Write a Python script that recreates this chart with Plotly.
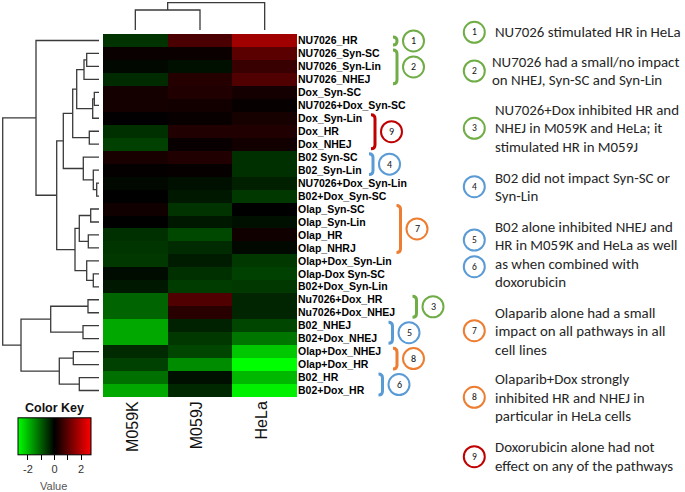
import plotly.graph_objects as go

# ---------------- data ----------------
rows = ["NU7026_HR", "NU7026_Syn-SC", "NU7026_Syn-Lin", "NU7026_NHEJ", "Dox_Syn-SC",
        "NU7026+Dox_Syn-SC", "Dox_Syn-Lin", "Dox_HR", "Dox_NHEJ", "B02 Syn-SC",
        "B02_Syn-Lin", "NU7026+Dox_Syn-Lin", "B02+Dox_Syn-SC", "Olap_Syn-SC",
        "Olap_Syn-Lin", "Olap_HR", "Olap_NHRJ", "Olap+Dox_Syn-Lin", "Olap-Dox Syn-SC",
        "B02+Dox_Syn-Lin", "Nu7026+Dox_HR", "Nu7026+Dox_NHEJ", "B02_NHEJ", "B02+Dox_NHEJ",
        "Olap+Dox_NHEJ", "Olap+Dox_HR", "B02_HR", "B02+Dox_HR"]
cols = ["M059K", "M059J", "HeLa"]

m059k = [-0.55, 0.11, -0.09, -0.45, 0.23, 0.23, 0.02, -0.52, -0.69, 0.26, 0.05, -0.09, 0.00, 0.17,
         0.00, -0.52, -0.57, -0.60, -0.13, -0.26, -1.09, -1.09, -1.81, -1.81, -0.45, -0.69, -1.21, -1.81]
m059j = [0.80, 0.11, -0.17, 0.40, 0.35, 0.19, 0.09, 0.35, 0.09, 0.35, 0.06, -0.17, -0.26, -0.55,
         -0.26, -0.78, -0.45, -0.30, -0.52, -0.65, 0.86, 0.43, -0.37, -0.60, -0.74, -1.51, -0.17, -0.43]
hela = [1.73, 0.97, 0.60, 0.86, 0.22, 0.06, 0.24, 0.35, 0.19, -0.52, -0.52, -0.35, -0.60, 0.00,
        -0.17, 0.17, -0.09, -0.60, -0.69, -0.60, -0.40, -0.40, -0.74, -1.26, -2.16, -2.75, -1.98, -2.59]

key_ticks = [-2, -1, 0, 1, 2]
key_ticktext = ["-2", "", "0", "", "2"]

# row dendrogram: (left, right, merge height)
R = rows
n23 = (R[1], R[2], 12.3)
n234 = (n23, R[3], 15.0)
n56 = (R[4], R[5], 4.7)
n567 = (n56, R[6], 6.3)
n2_7 = (n234, n567, 22.3)
n89 = (R[7], R[8], 9.7)
nE = (n2_7, n89, 26.3)
n1213 = (R[11], R[12], 2.3)
nG = (R[10], n1213, 5.7)
nF = (R[9], nG, 15.7)
nC = (nE, nF, 35.7)
n1415 = (R[13], R[14], 8.3)
n1617 = (R[15], R[16], 10.7)
n14_17 = (n1415, n1617, 19.7)
n1920 = (R[18], R[19], 5.7)
n18_20 = (R[17], n1920, 12.3)
nD = (n14_17, n18_20, 24.0)
nB = (nC, nD, 42.3)
nA = (R[0], nB, 63.0)
n2122 = (R[20], R[21], 11.0)
n2324 = (R[22], R[23], 16.0)
nI = (n2122, n2324, 48.3)
n2526 = (R[24], R[25], 25.7)
n2728 = (R[26], R[27], 19.7)
nJ = (n2526, n2728, 39.7)
nH = (nI, nJ, 78.0)
row_tree = (nA, nH, 96.3)

col_tree = ((cols[0], cols[1], 20.0), cols[2], 27.3)

# annotation groups: number, first row, last row, colour
groups = [
    (1, "NU7026_HR", "NU7026_HR", "green"),
    (2, "NU7026_Syn-SC", "NU7026_NHEJ", "green"),
    (9, "Dox_Syn-Lin", "Dox_NHEJ", "red"),
    (4, "B02 Syn-SC", "B02_Syn-Lin", "blue"),
    (7, "Olap_Syn-SC", "Olap_NHRJ", "orange"),
    (3, "Nu7026+Dox_HR", "Nu7026+Dox_NHEJ", "green"),
    (5, "B02_NHEJ", "B02+Dox_NHEJ", "blue"),
    (8, "Olap+Dox_NHEJ", "Olap+Dox_HR", "orange"),
    (6, "B02_HR", "B02+Dox_HR", "blue"),
]

notes = [
    (1, "green", ["NU7026 stimulated HR in HeLa"]),
    (2, "green", ["NU7026 had a small/no impact", "on NHEJ, Syn-SC and Syn-Lin"]),
    (3, "green", ["NU7026+Dox inhibited HR and", "NHEJ in M059K and HeLa; it", "stimulated HR in M059J"]),
    (4, "blue", ["B02 did not impact Syn-SC or", "Syn-Lin"]),
    (5, "blue", ["B02 alone inhibited NHEJ and", "HR in M059K and HeLa as well",
                 "as when combined with", "doxorubicin"]),
    (7, "orange", ["Olaparib alone had a small", "impact on all pathways in all", "cell lines"]),
    (8, "orange", ["Olaparib+Dox strongly", "inhibited HR and NHEJ in", "particular in HeLa cells"]),
    (9, "red", ["Doxorubicin alone had not", "effect on any of the pathways"]),
]

# ---------------- layout helpers ----------------
W, H = 685, 492
COLORS = {"green": "#70AD47", "blue": "#5B9BD5", "orange": "#ED7D31", "red": "#C00000"}
ARIAL = "Liberation Sans, Arial, sans-serif"
CAL = "Carlito, Calibri, Lato, sans-serif"


def px(x):
    return x / W


def py(y):
    return 1 - y / H


HM_L, HM_R, HM_T, HM_B = 103, 297, 34, 397
ROWH = (HM_B - HM_T) / len(rows)
LEAF_X = 99      # pixel where row dendrogram leaves end
TOP_LEAF_Y = 30  # pixel where column dendrogram leaves end


def tree_segments(node, pos, xs, ys, horizontal):
    """Return (position, height) of node, appending line segments."""
    if isinstance(node, str):
        return pos[node], 0.0
    left, right, h = node
    p1, h1 = tree_segments(left, pos, xs, ys, horizontal)
    p2, h2 = tree_segments(right, pos, xs, ys, horizontal)
    pts = [(h1, p1), (h, p1), (h, p2), (h2, p2)]
    for a, b in pts:
        if horizontal:
            xs.append(a); ys.append(b)
        else:
            xs.append(b); ys.append(a)
    xs.append(None); ys.append(None)
    return (p1 + p2) / 2, h


fig = go.Figure()

fig.add_trace(go.Heatmap(
    z=[[a, b, c] for a, b, c in zip(m059k, m059j, hela)],
    x=cols, y=rows,
    colorscale=[[0, "#00FF00"], [0.5, "#000000"], [1, "#FF0000"]],
    zmin=-2.75, zmax=2.75, xaxis="x", yaxis="y",
    hoverinfo="skip",
    colorbar=dict(
        orientation="h", x=px(54.5), xanchor="center", y=py(476), yanchor="bottom",
        len=73, lenmode="pixels", thickness=37, thicknessmode="pixels",
        xpad=0, ypad=0, outlinewidth=1, outlinecolor="#000",
        tickvals=key_ticks, ticktext=key_ticktext, ticks="outside", ticklen=5,
        tickcolor="#000", tickfont=dict(family=ARIAL, size=11, color="#333"),
        title=dict(text="Color Key", side="top",
                   font=dict(family=ARIAL, size=12.5, color="#111", weight="bold")),
    ),
))

# row dendrogram
xs, ys = [], []
tree_segments(row_tree, {r: i for i, r in enumerate(rows)}, xs, ys, True)
fig.add_trace(go.Scatter(x=xs, y=ys, mode="lines", xaxis="x2", yaxis="y2",
                         line=dict(color="#3a3a3a", width=1.3), hoverinfo="skip",
                         showlegend=False))
# column dendrogram
xs, ys = [], []
tree_segments(col_tree, {c: i for i, c in enumerate(cols)}, xs, ys, False)
fig.add_trace(go.Scatter(x=xs, y=ys, mode="lines", xaxis="x3", yaxis="y3",
                         line=dict(color="#3a3a3a", width=1.3), hoverinfo="skip",
                         showlegend=False))

shapes, annots = [], []


def circle(cx, cy, r, color, num, fsize):
    shapes.append(dict(type="circle", xref="paper", yref="paper",
                       x0=px(cx - r), x1=px(cx + r), y0=py(cy + r), y1=py(cy - r),
                       line=dict(color=color, width=2)))
    annots.append(dict(text=str(num), x=px(cx), y=py(cy), xref="paper", yref="paper",
                       showarrow=False, xanchor="center", yanchor="middle",
                       font=dict(family=CAL, size=fsize, color="#111")))


# brackets near row labels (vertical line x)
BRACKET_X = {1: 397, 2: 397, 9: 375, 4: 373, 7: 400.5, 3: 416.5, 5: 392.5, 8: 397, 6: 382.5}
idx = {r: i for i, r in enumerate(rows)}
for num, first, last, col in groups:
    top = HM_T + idx[first] * ROWH + 3
    bot = HM_T + (idx[last] + 1) * ROWH - 2
    xv = BRACKET_X[num]
    c = 4
    path = (f"M {px(xv - c)},{py(top)} Q {px(xv)},{py(top)} {px(xv)},{py(top + c)} "
            f"L {px(xv)},{py(bot - c)} Q {px(xv)},{py(bot)} {px(xv - c)},{py(bot)}")
    shapes.append(dict(type="path", path=path, xref="paper", yref="paper",
                       line=dict(color=COLORS[col], width=3)))
    circle(xv + 16.5, (top + bot) / 2, 10.5, COLORS[col], num, 10)

# right-hand notes
NOTE_CIRCLE_Y = {1: [32.3], 2: [71], 3: [128.3], 4: [186.7], 5: [240, 266.7],
                 7: [330.7], 8: [397.3], 9: [456.7]}
NOTE_FIRST_Y = {1: 32.3, 2: 61.7, 3: 110, 4: 177.7, 5: 226.7, 7: 312.7, 8: 379.3, 9: 447.3}
NOTE_X = {2: 490}
LINE_GAP = 18.4
for num, col, lines in notes:
    for k, cy in enumerate(NOTE_CIRCLE_Y[num]):
        circle(474.3, cy, 10.5, COLORS[col], num if k == 0 else 6, 9.5)
    for j, line in enumerate(lines):
        annots.append(dict(text=line, x=px(NOTE_X.get(num, 492.5)),
                           y=py(NOTE_FIRST_Y[num] + j * LINE_GAP),
                           xref="paper", yref="paper", showarrow=False,
                           xanchor="left", yanchor="middle",
                           font=dict(family=CAL, size=14.9, color="#262626")))

annots.append(dict(text="Value", x=px(53.5), y=py(486), xref="paper", yref="paper",
                   showarrow=False, xanchor="center", yanchor="middle",
                   font=dict(family=ARIAL, size=11, color="#555")))

fig.update_layout(
    width=W, height=H, margin=dict(l=0, r=0, t=0, b=0, pad=0, autoexpand=False),
    paper_bgcolor="white", plot_bgcolor="white", showlegend=False,
    xaxis=dict(domain=[px(HM_L), px(HM_R)], range=[-0.5, 2.5], anchor="y",
               tickmode="array", tickvals=cols, ticktext=cols, automargin=False,
               tickangle=-90, showgrid=False, zeroline=False, ticks="",
               ticklabelshift=-3,
               tickfont=dict(family=ARIAL, size=16, color="#111")),
    yaxis=dict(domain=[py(HM_B), py(HM_T)], range=[len(rows) - 0.5, -0.5], anchor="x",
               tickmode="array", tickvals=rows, ticktext=rows, automargin=False,
               side="right", showgrid=False, zeroline=False, ticks="",
               tickfont=dict(family=ARIAL, size=10.5, color="#000", weight="bold")),
    xaxis2=dict(domain=[0, px(LEAF_X)], range=[LEAF_X, 0], visible=False, anchor="y2"),
    yaxis2=dict(domain=[py(HM_B), py(HM_T)], range=[len(rows) - 0.5, -0.5],
                visible=False, anchor="x2"),
    xaxis3=dict(domain=[px(HM_L), px(HM_R)], range=[-0.5, 2.5], visible=False, anchor="y3"),
    yaxis3=dict(domain=[py(TOP_LEAF_Y), 1], range=[0, TOP_LEAF_Y], visible=False, anchor="x3"),
    shapes=shapes, annotations=annots,
)

fig.write_html("out.html", config={"displayModeBar": False},
               post_script="document.body.style.margin='0';"
                           "document.body.style.padding='0';")
